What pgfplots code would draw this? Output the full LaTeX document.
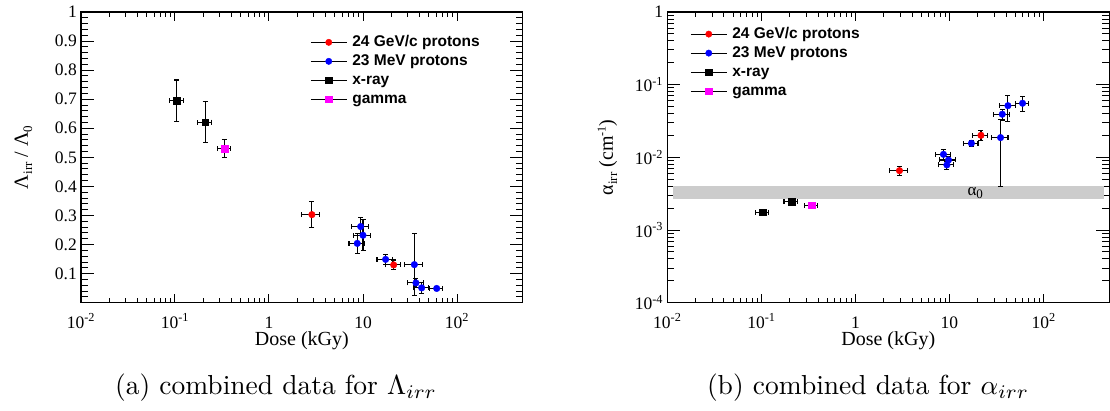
\documentclass[border=0pt]{standalone}
\usepackage[no-math]{fontspec}
\usepackage{graphicx}
\usepackage{pgfplots}
\usepackage{pgfplotstable}
\pgfplotsset{compat=1.18}
\newfontfamily\tms{Liberation Serif}
\newfontfamily\hlv{Liberation Sans}
\newcommand\sub[1]{\raisebox{-0.45ex}{\fontsize{13}{13}\selectfont #1}}
\newcommand\sups[1]{\raisebox{0.8ex}{\fontsize{12}{12}\selectfont #1}}
\definecolor{bandgray}{RGB}{204,204,204}
\definecolor{mag}{RGB}{255,0,255}
\definecolor{rr}{RGB}{255,0,0}
\definecolor{bb}{RGB}{0,0,255}

% ---- left panel: Lambda_irr / Lambda_0
\pgfplotstableread{
x y dx dy
0.1045 0.695 0.018 0.071
0.209 0.621 0.036 0.071
}\LXray
\pgfplotstableread{
x y dx dy
0.336 0.530 0.055 0.031
}\LGamma
\pgfplotstableread{
x y dx dy
2.86 0.303 0.62 0.044
21.2 0.130 4.0 0.017
}\LRed
\pgfplotstableread{
x y dx dy
9.44 0.262 1.9 0.032
10.0 0.232 2.0 0.053
8.69 0.204 1.6 0.034
17.4 0.149 3.3 0.018
35.2 0.131 7.5 0.107
36.6 0.068 7.0 0.016
42.1 0.051 8.0 0.020
60.8 0.049 10.0 0.008
}\LBlue

% ---- right panel: alpha_irr
\pgfplotstableread{
x y dx dy
0.103 0.00176 0.017 0.00017
0.209 0.00246 0.035 0.00020
}\RXray
\pgfplotstableread{
x y dx dy
0.344 0.00219 0.055 0.00012
}\RGamma
\pgfplotstableread{
x y dx dy
2.94 0.00656 0.62 0.0010
21.6 0.0201 4.0 0.0030
}\RRed
\pgfplotstableread{
x y dx dy
8.63 0.0110 1.6 0.0018
9.76 0.0092 1.9 0.0012
9.38 0.00787 1.7 0.0010
17.1 0.0156 3.0 0.0015
34.9 0.0187 7.0 0.0147
36.4 0.0392 7.0 0.0065
41.8 0.0514 8.0 0.0200
59.8 0.0555 10.0 0.0130
}\RBlue

\pgfplotsset{
  every axis/.append style={
    scale only axis, height=290.7pt, anchor=south west,
    xmode=log, xmin=0.01, xmax=500,
    xtick={0.01,0.1,1,10,100},
    xticklabels={10\textsuperscript{-2},10\textsuperscript{-1},1,10,10\textsuperscript{2}},
    xlabel={Dose (kGy)},
    tick align=inside,
    axis line style={line width=1.2pt},
    every tick/.style={black, line width=1pt},
    major tick length=11pt, minor tick length=6pt,
    xtick style={/pgfplots/major tick length=9pt, /pgfplots/minor tick length=5pt},
    ytick style={/pgfplots/major tick length=13pt, /pgfplots/minor tick length=7pt},
    xticklabel style={font=\tms\fontsize{17.5}{20}\selectfont, anchor=base, inner sep=0pt, yshift=-25.5pt},
    yticklabel style={font=\tms\fontsize{17.5}{20}\selectfont, anchor=east, inner sep=0pt, xshift=-4pt},
    xlabel style={font=\tms\fontsize{20}{22}\selectfont, at={(axis description cs:0.5,-0.1472)}, anchor=base},
    ylabel style={font=\tms\fontsize{20}{22}\selectfont, anchor=base},
    legend style={draw=none, fill=none, anchor=north west, inner sep=0pt, row sep=0pt,
      font=\hlv\bfseries\fontsize{15.5}{17}\selectfont,
      nodes={inner sep=1pt, text height=12.5pt, text depth=4.5pt},
      cells={anchor=west}, column sep=4pt},
  },
  dat/.style={only marks, mark size=3.3pt, forget plot,
    error bars/.cd, x dir=both, x explicit, y dir=both, y explicit,
    error bar style={black, line width=1.1pt},
    error mark options={rotate=90, black, mark size=2.5pt, line width=1.1pt},
    /pgfplots/.cd},
}

\newcommand\legimgs{%
  \addlegendimage{legend image code/.code={\draw[black,line width=1.1pt] (0pt,0pt) -- (36pt,0pt); \fill[rr] (18pt,0pt) circle (3.2pt);}}
  \addlegendentry{24 GeV/c protons}
  \addlegendimage{legend image code/.code={\draw[black,line width=1.1pt] (0pt,0pt) -- (36pt,0pt); \fill[bb] (18pt,0pt) circle (3.2pt);}}
  \addlegendentry{23 MeV protons}
  \addlegendimage{legend image code/.code={\draw[black,line width=1.1pt] (0pt,0pt) -- (36pt,0pt); \fill[black] (14.8pt,-3.2pt) rectangle (21.2pt,3.2pt);}}
  \addlegendentry{x-ray}
  \addlegendimage{legend image code/.code={\draw[black,line width=1.1pt] (0pt,0pt) -- (36pt,0pt); \fill[mag] (14.8pt,-3.2pt) rectangle (21.2pt,3.2pt);}}
  \addlegendentry{gamma}
}

\begin{document}
\begin{tikzpicture}
% ---------------- left
\begin{axis}[at={(81pt,107.3pt)}, width=441.7pt,
  ymin=0, ymax=1,
  ytick={0,0.1,0.2,0.3,0.4,0.5,0.6,0.7,0.8,0.9,1},
  yticklabels={,0.1,0.2,0.3,0.4,0.5,0.6,0.7,0.8,0.9,1},
  minor y tick num=4,
  ylabel={Λ\sub{irr} / Λ\sub{0}},
  ylabel style={at={(axis description cs:-0.12,0.5)}},
  legend style={at={(rel axis cs:0.5185,0.9290)}},
]
\legimgs
\addplot[dat, mark=square*, black] table[x=x,y=y,x error=dx,y error=dy] {\LXray};
\addplot[dat, mark=square*, mag] table[x=x,y=y,x error=dx,y error=dy] {\LGamma};
\addplot[dat, mark=*, rr] table[x=x,y=y,x error=dx,y error=dy] {\LRed};
\addplot[dat, mark=*, bb] table[x=x,y=y,x error=dx,y error=dy] {\LBlue};
\end{axis}
% ---------------- right
\begin{axis}[at={(667.3pt,107.3pt)}, width=442pt,
  ymode=log, ymin=1e-4, ymax=1,
  ytick={1e-4,1e-3,1e-2,1e-1,1},
  yticklabels={10\textsuperscript{-4},10\textsuperscript{-3},10\textsuperscript{-2},10\textsuperscript{-1},1},
  ylabel={α\sub{irr} (cm\sups{-1})},
  ylabel style={at={(axis description cs:-0.1229,0.5)}},
  legend style={at={(rel axis cs:0.0514,0.9573)}},
]
\legimgs
\addplot[fill=bandgray, draw=none, forget plot] coordinates {(0.0114,0.00265) (435,0.00265) (435,0.0040) (0.0114,0.0040)} -- cycle;
\node[font=\tms\fontsize{17}{18}\selectfont, inner sep=0pt] at (axis cs:18.8,0.00322) {α\sub{0}};
\addplot[dat, mark=square*, black] table[x=x,y=y,x error=dx,y error=dy] {\RXray};
\addplot[dat, mark=square*, mag] table[x=x,y=y,x error=dx,y error=dy] {\RGamma};
\addplot[dat, mark=*, rr] table[x=x,y=y,x error=dx,y error=dy] {\RRed};
\addplot[dat, mark=*, bb] table[x=x,y=y,x error=dx,y error=dy] {\RBlue};
\end{axis}
\node[anchor=base, inner sep=0pt] at (276pt,16pt) {\scalebox{2.75}{\fontsize{10}{12}\selectfont (a) combined data for $\Lambda_{irr}$}};
\node[anchor=base, inner sep=0pt] at (868pt,16pt) {\scalebox{2.75}{\fontsize{10}{12}\selectfont (b) combined data for $\alpha_{irr}$}};
\pgfresetboundingbox
\path[use as bounding box] (0,0) rectangle (1110pt,410pt);
\end{tikzpicture}
\end{document}
